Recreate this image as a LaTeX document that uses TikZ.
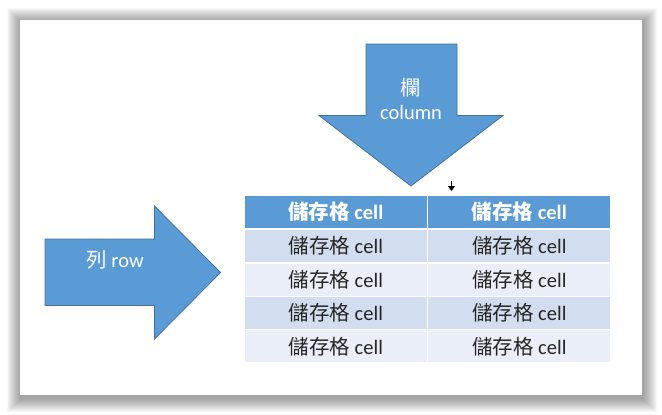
\documentclass[tikz,border=0pt]{standalone}
\usepackage{fontspec}
\setmainfont{Carlito}
\newfontfamily\cjk{Noto Sans CJK TC}
\usetikzlibrary{arrows.meta}
\definecolor{blu}{HTML}{5B9BD5}
\definecolor{bord}{HTML}{41719C}
\definecolor{rowA}{HTML}{D2DEEF}
\definecolor{rowB}{HTML}{EAEFF7}
\definecolor{txt}{HTML}{262626}
\tikzset{
  bigarrow/.style={fill=blu, draw=bord, line width=0.8pt, line join=miter},
  cellbox/.style={rectangle, draw=white, line width=1.4pt, minimum width=183.5pt, minimum height=33.4pt, inner sep=0pt,
    font=\fontsize{20.5}{22}\selectfont, text=txt},
  headbox/.style={cellbox, fill=blu, text=white, font=\fontsize{20.5}{22}\selectfont\bfseries},
  oddrow/.style={cellbox, fill=rowA},
  evenrow/.style={cellbox, fill=rowB},
  lbl/.style={text=white, align=center, font=\fontsize{20.5}{24}\selectfont, inner sep=0pt}
}
\begin{document}
\begin{tikzpicture}[x=1pt,y=-1pt]
\useasboundingbox (0,0) rectangle (662,415);
% shadow
\foreach \i in {1,...,14} {
  \fill[black, opacity=0.03] (20-\i+1,20-\i+2) rectangle (642+\i+1,395+\i+3);
}
\fill[white] (20,20) rectangle (642,395);
% down arrow
\draw[bigarrow] (366,44) -- (457,44) -- (457,115.5) -- (503,115.5) -- (411,186) -- (319,115.5) -- (366,115.5) -- cycle;
\node[lbl] (coltext) at (411,98.5) {{\cjk 欄}\\column};
% right arrow
\draw[bigarrow] (45,239) -- (154.5,239) -- (154.5,206) -- (220.5,272.5) -- (154.5,339) -- (154.5,305.5) -- (45,305.5) -- cycle;
\node[lbl] (rowtext) at (115,260) {{\cjk 列} row};
% table
\node[headbox] (h1) at (335.75,211.7) {{\cjk 儲存格} cell};
\node[headbox] (h2) at (519.25,211.7) {{\cjk 儲存格} cell};
\node[oddrow] (a1) at (335.75,246.1) {{\cjk 儲存格} cell};
\node[oddrow] (a2) at (519.25,246.1) {{\cjk 儲存格} cell};
\node[evenrow] (b1) at (335.75,279.5) {{\cjk 儲存格} cell};
\node[evenrow] (b2) at (519.25,279.5) {{\cjk 儲存格} cell};
\node[oddrow] (c1) at (335.75,312.9) {{\cjk 儲存格} cell};
\node[oddrow] (c2) at (519.25,312.9) {{\cjk 儲存格} cell};
\node[evenrow] (d1) at (335.75,346.3) {{\cjk 儲存格} cell};
\node[evenrow] (d2) at (519.25,346.3) {{\cjk 儲存格} cell};
% small black arrow
\coordinate (sa) at (451.5,181);
\coordinate (sb) at (451.5,191);
\draw[line width=1.8pt, -{Triangle[width=7pt,length=5pt]}] (sa) -- (sb);
\end{tikzpicture}
\end{document}
